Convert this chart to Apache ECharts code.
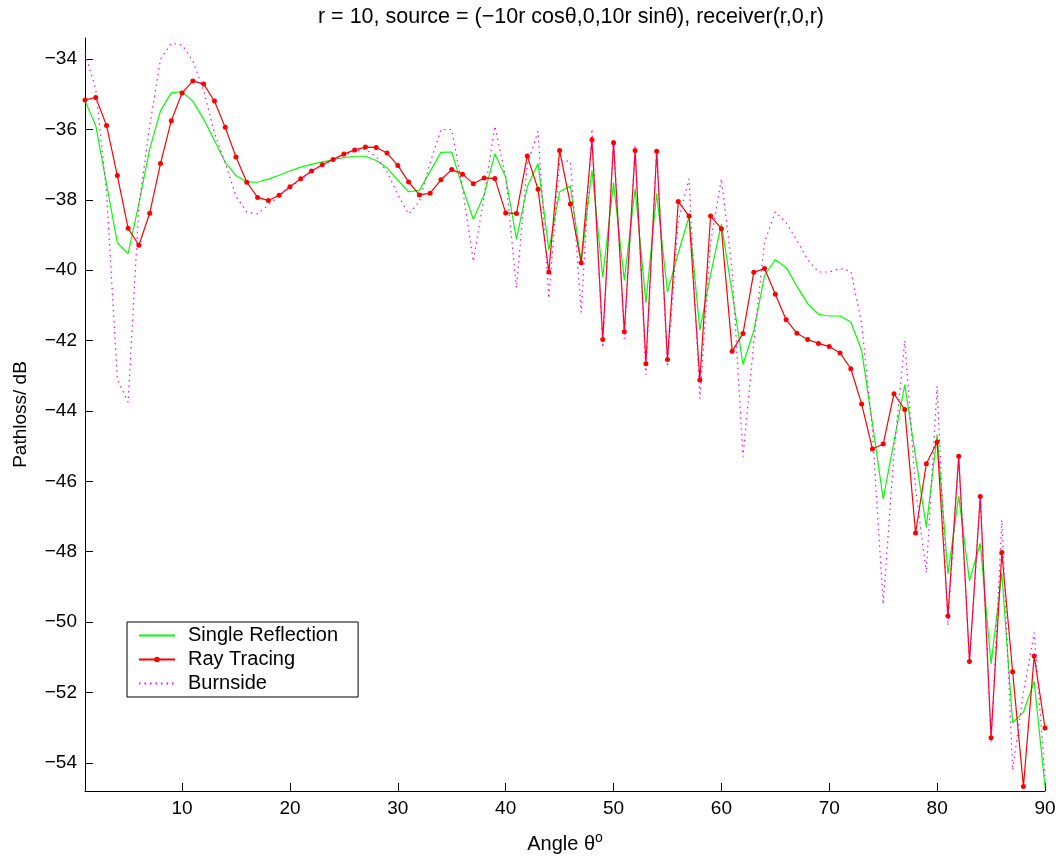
<!DOCTYPE html>
<html lang="en">
<head>
  <meta charset="UTF-8">
  <title>Pathloss</title>
  <script src="https://cdn.jsdelivr.net/npm/echarts@6.0.0/dist/echarts.min.js"></script>
  <style>
    * { margin: 0; padding: 0; }
    body { background: #fff; }
    #chart { width: 1060px; height: 859px; }
  </style>
</head>
<body>
  <div id="chart"></div>
<script>
  // angle theta in degrees
  var angles = [1, 2, 3, 4, 5, 6, 7, 8, 9, 10, 11, 12, 13, 14, 15, 16, 17, 18, 19, 20,
    21, 22, 23, 24, 25, 26, 27, 28, 29, 30, 31, 32, 33, 34, 35, 36, 37, 38, 39, 40,
    41, 42, 43, 44, 45, 46, 47, 48, 49, 50, 51, 52, 53, 54, 55, 56, 57, 58, 59, 60,
    61, 62, 63, 64, 65, 66, 67, 68, 69, 70, 71, 72, 73, 74, 75, 76, 77, 78, 79, 80,
    81, 82, 83, 84, 85, 86, 87, 88, 89, 90];

  var singleReflection = [-35.18, -35.89, -37.55, -39.22, -39.53, -38.10, -36.55, -35.47, -34.96, -34.92,
    -35.20, -35.70, -36.31, -36.93, -37.31, -37.49, -37.50, -37.41, -37.30, -37.18,
    -37.07, -36.99, -36.92, -36.86, -36.80, -36.76, -36.76, -36.88, -37.09, -37.44,
    -37.77, -37.73, -37.19, -36.65, -36.64, -37.64, -38.55, -37.86, -36.69, -37.35,
    -39.12, -37.63, -36.97, -39.43, -37.77, -37.61, -39.79, -37.16, -40.20, -37.51,
    -40.29, -37.68, -40.92, -37.82, -40.62, -39.51, -38.48, -41.70, -40.12, -38.68,
    -40.64, -42.68, -41.72, -40.15, -39.70, -39.92, -40.45, -40.95, -41.25, -41.30,
    -41.30, -41.47, -42.28, -44.35, -46.50, -44.87, -43.25, -45.30, -47.30, -44.67,
    -48.63, -46.42, -48.82, -47.76, -51.19, -48.61, -52.86, -52.56, -51.69, -54.67];

  var rayTracing = [-35.16, -35.09, -35.89, -37.31, -38.81, -39.29, -38.38, -36.97, -35.75, -34.96,
    -34.62, -34.71, -35.19, -35.94, -36.78, -37.50, -37.93, -38.02, -37.87, -37.63,
    -37.40, -37.18, -37.00, -36.85, -36.70, -36.58, -36.50, -36.51, -36.67, -37.02,
    -37.49, -37.86, -37.81, -37.43, -37.14, -37.27, -37.54, -37.38, -37.39, -38.37,
    -38.39, -36.75, -37.70, -40.05, -36.60, -38.12, -39.79, -36.29, -41.97, -36.38,
    -41.75, -36.60, -42.66, -36.62, -42.54, -38.05, -38.46, -43.12, -38.46, -38.82,
    -42.30, -41.80, -40.06, -39.95, -40.68, -41.41, -41.79, -41.97, -42.08, -42.17,
    -42.35, -42.80, -43.80, -45.08, -44.94, -43.51, -43.96, -47.47, -45.50, -44.88,
    -49.83, -45.29, -51.12, -46.43, -53.29, -48.02, -51.41, -54.67, -50.96, -53.01];

  var burnside = [-33.85, -34.85, -37.80, -43.10, -43.75, -38.15, -35.90, -34.00, -33.55, -33.60,
    -34.05, -34.90, -36.10, -36.95, -37.90, -38.35, -38.40, -38.15, -37.88, -37.65,
    -37.42, -37.20, -37.02, -36.88, -36.74, -36.62, -36.56, -36.78, -37.20, -37.85,
    -38.40, -38.05, -36.95, -36.00, -36.00, -37.67, -39.75, -37.90, -35.90, -37.35,
    -40.50, -37.00, -36.05, -40.80, -36.90, -36.90, -41.20, -35.98, -42.20, -36.25,
    -41.95, -36.45, -42.97, -36.50, -42.75, -38.60, -37.40, -43.65, -39.20, -37.40,
    -40.00, -45.30, -42.05, -39.20, -38.34, -38.65, -39.15, -39.70, -40.05, -40.05,
    -39.95, -40.03, -41.50, -44.55, -49.50, -45.20, -42.00, -46.20, -48.60, -43.30,
    -50.10, -45.30, -51.20, -46.40, -53.40, -47.10, -54.20, -52.00, -50.30, -54.40];

  var xTicks = [10, 20, 30, 40, 50, 60, 70, 80, 90];
  var yTicks = [-54, -52, -50, -48, -46, -44, -42, -40, -38, -36, -34];

  function pairs(vals) {
    return angles.map(function (a, i) { return [a, vals[i]]; });
  }

  var myChart = echarts.init(document.getElementById('chart'));
  var font = 'Liberation Sans, Arial, sans-serif';
  var noMark = { color: 'rgba(0,0,0,0)', borderWidth: 0 };

  var option = {
    animation: false,
    backgroundColor: '#fff',
    textStyle: { fontFamily: font, color: '#000' },
    title: {
      text: 'r = 10, source = (\u221210r cos\u03b8,0,10r sin\u03b8), receiver(r,0,r)',
      left: 566,
      textAlign: 'center',
      top: 1,
      textStyle: { fontFamily: font, fontSize: 21.5, fontWeight: 'normal', color: '#000' }
    },
    grid: { left: 85, right: 15, top: 38, bottom: 64 },
    legend: {
      orient: 'vertical',
      left: 127,
      top: 622,
      padding: [3, 20, 3, 11],
      itemGap: 3,
      itemWidth: 36,
      itemHeight: 7,
      borderColor: '#000',
      borderWidth: 1,
      backgroundColor: '#fff',
      textStyle: { fontFamily: font, fontSize: 20, color: '#000', padding: [0, 0, 0, 8], lineHeight: 21 },
      data: [
        { name: 'Single Reflection', itemStyle: noMark },
        { name: 'Ray Tracing' },
        { name: 'Burnside', itemStyle: noMark }
      ]
    },
    xAxis: {
      type: 'value',
      min: 1,
      max: 90,
      name: 'Angle \u03b8{sup|o}',
      nameLocation: 'middle',
      nameGap: 40,
      nameTextStyle: {
        fontFamily: font, fontSize: 20, color: '#000',
        rich: { sup: { fontFamily: font, fontSize: 14, verticalAlign: 'top', padding: [0, 0, 12, 0] } }
      },
      axisLine: { lineStyle: { color: '#000', width: 1 } },
      axisTick: { inside: true, length: 8, customValues: xTicks, lineStyle: { color: '#000' } },
      axisLabel: { customValues: xTicks, fontFamily: font, fontSize: 19, color: '#000', margin: 8 },
      splitLine: { show: false }
    },
    yAxis: {
      type: 'value',
      min: -54.8,
      max: -33.4,
      name: 'Pathloss/ dB',
      nameLocation: 'middle',
      nameGap: 55,
      nameTextStyle: { fontFamily: font, fontSize: 19, color: '#000' },
      axisLine: { show: true, lineStyle: { color: '#000', width: 1 } },
      axisTick: { inside: true, length: 8, customValues: yTicks, lineStyle: { color: '#000' } },
      axisLabel: {
        customValues: yTicks,
        fontFamily: font, fontSize: 19, color: '#000', margin: 8,
        formatter: function (v) { return String(v).replace('-', '\u2212'); }
      },
      splitLine: { show: false }
    },
    series: [{
      name: 'Single Reflection',
      type: 'line',
      data: pairs(singleReflection),
      symbol: 'none',
      lineStyle: { color: '#00ff00', width: 1.2 },
      itemStyle: { color: '#00ff00' }
    }, {
      name: 'Ray Tracing',
      type: 'line',
      data: pairs(rayTracing),
      symbol: 'circle',
      symbolSize: 5,
      lineStyle: { color: '#ff0000', width: 1.2 },
      itemStyle: { color: '#ff0000' }
    }, {
      name: 'Burnside',
      type: 'line',
      data: pairs(burnside),
      symbol: 'none',
      lineStyle: { color: '#ff00ff', width: 1.2, type: [1.5, 4] },
      itemStyle: { color: '#ff00ff' }
    }]
  };

  myChart.setOption(option);
</script>
</body>
</html>
